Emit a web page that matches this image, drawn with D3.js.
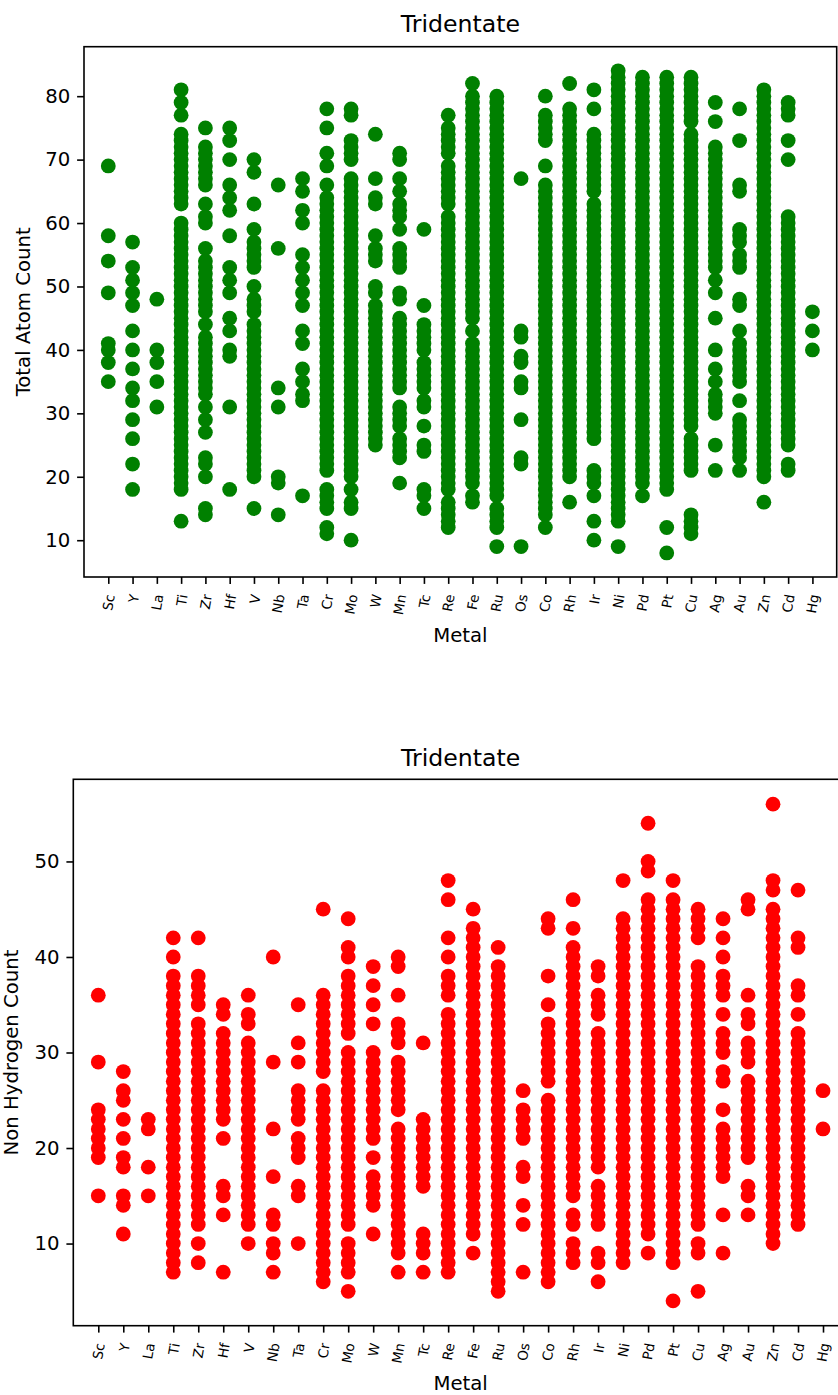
<!DOCTYPE html>
<html>
<head>
<meta charset="utf-8">
<script src="https://cdn.jsdelivr.net/npm/d3@7"></script>
<style>
  body { margin: 0; background: #ffffff; }
  svg { display: block; font-family: "DejaVu Sans", sans-serif; }
</style>
</head>
<body>
<svg id="chart" width="838" height="1395"></svg>
<script>
// metals on the x axis
const metals = ["Sc", "Y", "La", "Ti", "Zr", "Hf", "V", "Nb", "Ta", "Cr", "Mo", "W", "Mn", "Tc", "Re",
  "Fe", "Ru", "Os", "Co", "Rh", "Ir", "Ni", "Pd", "Pt", "Cu", "Ag", "Au", "Zn", "Cd", "Hg"];

// total atom count, one list per metal (same order as metals)
const totalAtomCount = [
  [69, 58, 54, 49, 41, 40, 38, 35],
  [57, 53, 51, 49, 47, 43, 40, 37, 34, 32, 29, 26, 22, 18],
  [48, 40, 38, 35, 31],
  [81, 79, 77, 74, 73, 72, 71, 70, 69, 68, 67, 66, 65, 64, 63, 60, 59, 58, 57, 56, 55, 54, 53, 52, 51, 50, 49, 48, 47, 46, 45, 44, 43, 42, 41, 40, 39, 38, 37, 36, 35, 34, 33, 32, 31, 30, 29, 28, 27, 26, 25, 24, 23, 22, 21, 20, 19, 18, 13],
  [75, 72, 71, 70, 69, 68, 67, 66, 63, 61, 60, 56, 54, 53, 52, 51, 50, 49, 48, 47, 46, 44, 42, 41, 40, 39, 38, 37, 36, 35, 34, 33, 31, 29, 27, 23, 22, 20, 15, 14],
  [75, 73, 70, 66, 64, 62, 58, 53, 51, 49, 45, 43, 40, 39, 31, 18],
  [70, 68, 63, 59, 57, 56, 55, 54, 53, 50, 48, 47, 46, 44, 43, 42, 41, 40, 39, 38, 37, 36, 35, 34, 33, 32, 31, 30, 29, 28, 27, 26, 25, 24, 23, 22, 21, 20, 15],
  [66, 56, 34, 31, 20, 19, 14],
  [67, 65, 62, 60, 55, 53, 51, 49, 47, 43, 41, 37, 35, 33, 32, 17],
  [78, 75, 71, 69, 66, 64, 63, 62, 61, 60, 59, 58, 57, 56, 55, 54, 53, 52, 51, 50, 49, 48, 47, 46, 45, 44, 43, 42, 41, 40, 39, 38, 37, 36, 35, 34, 33, 32, 31, 30, 29, 28, 27, 26, 25, 24, 23, 22, 21, 18, 17, 16, 15, 12, 11],
  [78, 77, 73, 72, 71, 70, 67, 66, 65, 64, 63, 62, 61, 60, 59, 58, 57, 56, 55, 54, 53, 52, 51, 50, 49, 48, 47, 46, 45, 44, 43, 42, 41, 40, 39, 38, 37, 36, 35, 34, 33, 32, 31, 30, 29, 28, 27, 26, 25, 24, 23, 22, 21, 20, 18, 16, 15, 10],
  [74, 67, 64, 63, 58, 56, 55, 54, 50, 49, 47, 46, 45, 44, 43, 42, 41, 40, 39, 38, 37, 36, 35, 34, 33, 32, 31, 30, 29, 28, 27, 26, 25],
  [71, 70, 67, 65, 63, 62, 61, 59, 56, 55, 54, 53, 49, 48, 45, 44, 43, 42, 41, 40, 39, 38, 37, 36, 35, 34, 31, 30, 29, 28, 26, 25, 24, 23, 19],
  [59, 47, 44, 43, 42, 41, 40, 38, 37, 36, 35, 34, 32, 31, 28, 25, 24, 18, 17, 15],
  [77, 75, 74, 73, 72, 71, 69, 68, 67, 66, 65, 64, 63, 61, 60, 59, 58, 57, 56, 55, 54, 53, 52, 51, 50, 49, 48, 47, 46, 45, 44, 43, 42, 41, 40, 39, 38, 37, 36, 35, 34, 33, 32, 31, 30, 29, 28, 27, 26, 25, 24, 23, 22, 21, 20, 19, 18, 16, 15, 14, 13, 12],
  [82, 80, 79, 78, 77, 76, 75, 74, 73, 72, 71, 70, 69, 68, 67, 66, 65, 64, 63, 62, 61, 60, 59, 58, 57, 56, 55, 54, 53, 52, 51, 50, 49, 48, 47, 46, 45, 43, 41, 40, 39, 38, 37, 36, 35, 34, 33, 32, 31, 30, 29, 28, 27, 26, 25, 24, 23, 22, 21, 20, 19, 17, 16],
  [80, 79, 78, 77, 76, 75, 74, 73, 72, 71, 70, 69, 68, 67, 66, 65, 64, 63, 62, 61, 60, 59, 58, 57, 56, 55, 54, 53, 52, 51, 50, 49, 48, 47, 46, 45, 44, 43, 42, 41, 40, 39, 38, 37, 36, 35, 34, 33, 32, 31, 30, 29, 28, 27, 26, 25, 24, 23, 22, 21, 20, 19, 18, 17, 15, 14, 13, 12, 9],
  [67, 43, 42, 39, 38, 35, 34, 29, 23, 22, 9],
  [80, 77, 76, 75, 74, 73, 69, 66, 65, 64, 63, 62, 61, 60, 59, 58, 57, 56, 55, 54, 53, 52, 51, 50, 49, 48, 47, 46, 45, 44, 43, 42, 41, 40, 39, 38, 37, 36, 35, 34, 33, 32, 31, 30, 29, 28, 27, 26, 25, 24, 23, 22, 21, 20, 19, 18, 17, 16, 15, 14, 12],
  [82, 78, 77, 76, 75, 74, 73, 72, 71, 70, 69, 68, 67, 66, 65, 64, 63, 62, 61, 60, 59, 58, 57, 56, 55, 54, 53, 52, 51, 50, 49, 48, 47, 46, 45, 44, 43, 42, 41, 40, 39, 38, 37, 36, 35, 34, 33, 32, 31, 30, 29, 28, 27, 26, 25, 24, 23, 22, 21, 20, 16],
  [81, 78, 74, 73, 72, 71, 70, 69, 68, 67, 66, 65, 63, 62, 61, 60, 59, 58, 57, 56, 55, 54, 53, 52, 51, 50, 49, 48, 47, 46, 45, 44, 43, 42, 41, 40, 39, 38, 37, 36, 35, 34, 33, 32, 31, 30, 29, 28, 27, 26, 21, 20, 19, 17, 13, 10],
  [84, 83, 82, 81, 80, 79, 78, 77, 76, 75, 74, 73, 72, 71, 70, 69, 68, 67, 66, 65, 64, 63, 62, 61, 60, 59, 58, 57, 56, 55, 54, 53, 52, 51, 50, 49, 48, 47, 46, 45, 44, 43, 42, 41, 40, 39, 38, 37, 36, 35, 34, 33, 32, 31, 30, 29, 28, 27, 26, 25, 24, 23, 22, 21, 20, 19, 18, 17, 16, 15, 14, 13, 9],
  [83, 82, 81, 80, 79, 78, 77, 76, 75, 74, 73, 72, 71, 70, 69, 68, 67, 66, 65, 64, 63, 62, 61, 60, 59, 58, 57, 56, 55, 54, 53, 52, 51, 50, 49, 48, 47, 46, 45, 44, 43, 42, 41, 40, 39, 38, 37, 36, 35, 34, 33, 32, 31, 30, 29, 28, 27, 26, 25, 24, 23, 22, 21, 20, 19, 17],
  [83, 82, 81, 80, 79, 78, 77, 76, 75, 74, 73, 72, 71, 70, 69, 68, 67, 66, 65, 64, 63, 62, 61, 60, 59, 58, 57, 56, 55, 54, 53, 52, 51, 50, 49, 48, 47, 46, 45, 44, 43, 42, 41, 40, 39, 38, 37, 36, 35, 34, 33, 32, 31, 30, 29, 28, 27, 26, 25, 24, 23, 22, 21, 20, 19, 18, 12, 8],
  [83, 82, 81, 80, 79, 78, 77, 76, 74, 73, 72, 71, 70, 69, 68, 67, 66, 65, 64, 63, 62, 61, 60, 59, 58, 57, 56, 55, 54, 53, 52, 51, 50, 49, 48, 47, 46, 45, 44, 43, 42, 41, 40, 39, 38, 37, 36, 35, 34, 33, 32, 31, 30, 29, 28, 26, 25, 24, 23, 22, 21, 14, 13, 12, 11],
  [79, 76, 72, 71, 70, 69, 68, 67, 66, 65, 64, 63, 62, 61, 60, 59, 58, 57, 56, 55, 54, 53, 51, 49, 45, 40, 37, 35, 33, 32, 31, 30, 25, 21],
  [78, 73, 66, 65, 59, 58, 57, 55, 54, 53, 48, 47, 43, 41, 40, 39, 38, 37, 36, 35, 32, 29, 28, 27, 26, 25, 24, 23, 21],
  [81, 80, 79, 78, 77, 76, 75, 74, 73, 72, 71, 70, 69, 68, 67, 66, 65, 64, 63, 62, 61, 60, 59, 58, 57, 56, 55, 54, 53, 52, 51, 50, 49, 48, 47, 46, 45, 44, 43, 42, 41, 40, 39, 38, 37, 36, 35, 34, 33, 32, 31, 30, 29, 28, 27, 26, 25, 24, 23, 22, 21, 20, 16],
  [79, 78, 77, 73, 70, 61, 60, 59, 58, 57, 56, 55, 54, 53, 52, 51, 50, 49, 48, 47, 46, 45, 44, 43, 42, 41, 40, 39, 38, 37, 36, 35, 34, 33, 32, 31, 30, 29, 28, 27, 26, 25, 22, 21],
  [46, 43, 40]
];

// non hydrogen count, one list per metal
const nonHydrogenCount = [
  [36, 29, 24, 23, 22, 21, 20, 19, 15],
  [28, 26, 25, 23, 21, 19, 18, 15, 14, 11],
  [23, 22, 18, 15],
  [42, 40, 38, 37, 36, 35, 34, 33, 32, 31, 30, 29, 28, 27, 26, 25, 24, 23, 22, 21, 20, 19, 18, 17, 16, 15, 14, 13, 12, 11, 10, 9, 8, 7],
  [42, 38, 37, 36, 35, 33, 32, 31, 30, 29, 28, 27, 26, 25, 24, 23, 22, 21, 20, 19, 18, 17, 16, 15, 14, 13, 12, 10, 8],
  [35, 34, 32, 31, 30, 29, 28, 27, 26, 25, 24, 23, 21, 16, 15, 13, 7],
  [36, 34, 33, 31, 30, 29, 28, 27, 26, 25, 24, 23, 22, 21, 20, 19, 18, 17, 16, 15, 14, 13, 12, 10],
  [40, 29, 22, 17, 13, 12, 10, 9, 7],
  [35, 31, 29, 26, 25, 24, 23, 21, 20, 19, 16, 15, 10],
  [45, 36, 35, 34, 33, 32, 31, 30, 29, 28, 26, 25, 24, 23, 22, 21, 20, 19, 18, 17, 16, 15, 14, 13, 12, 11, 10, 9, 8, 7, 6],
  [44, 41, 40, 38, 37, 36, 35, 34, 33, 32, 30, 29, 28, 27, 26, 25, 24, 23, 22, 21, 20, 19, 18, 17, 16, 15, 14, 13, 12, 10, 9, 8, 7, 5],
  [39, 37, 35, 33, 30, 29, 28, 27, 26, 25, 24, 23, 22, 21, 19, 17, 16, 15, 14, 11],
  [40, 39, 36, 33, 32, 31, 29, 28, 27, 26, 25, 24, 22, 21, 20, 19, 18, 17, 16, 15, 14, 13, 12, 11, 10, 9, 7],
  [31, 23, 22, 21, 20, 19, 18, 17, 16, 11, 10, 9, 7],
  [48, 46, 42, 40, 38, 37, 36, 34, 33, 32, 31, 30, 29, 28, 27, 26, 25, 24, 23, 22, 21, 20, 19, 18, 17, 16, 15, 14, 13, 12, 11, 10, 9, 8, 7],
  [45, 43, 42, 41, 40, 39, 38, 37, 36, 35, 34, 33, 32, 31, 30, 29, 28, 27, 26, 25, 24, 23, 22, 21, 20, 19, 18, 17, 16, 15, 14, 13, 12, 11, 9],
  [41, 39, 38, 37, 36, 35, 34, 33, 32, 31, 30, 29, 28, 27, 26, 25, 24, 23, 22, 21, 20, 19, 18, 17, 16, 15, 14, 13, 12, 11, 10, 9, 8, 7, 6, 5],
  [26, 24, 23, 22, 21, 18, 17, 14, 12, 7],
  [44, 43, 38, 35, 33, 32, 31, 30, 29, 28, 27, 25, 24, 23, 22, 21, 20, 19, 18, 17, 16, 15, 14, 13, 12, 11, 10, 9, 8, 7, 6],
  [46, 43, 41, 40, 39, 38, 37, 36, 35, 34, 33, 32, 31, 30, 29, 28, 27, 26, 25, 24, 23, 22, 21, 20, 19, 18, 17, 16, 15, 13, 12, 10, 9, 8],
  [39, 38, 36, 35, 34, 32, 31, 30, 29, 28, 27, 26, 25, 24, 23, 22, 21, 20, 19, 18, 16, 15, 14, 13, 12, 9, 8, 6],
  [48, 44, 43, 42, 41, 40, 39, 38, 37, 36, 35, 34, 33, 32, 31, 30, 29, 28, 27, 26, 25, 24, 23, 22, 21, 20, 19, 18, 17, 16, 15, 14, 13, 12, 11, 10, 9, 8],
  [54, 50, 49, 46, 45, 44, 43, 42, 41, 40, 39, 38, 37, 36, 35, 34, 33, 32, 31, 30, 29, 28, 27, 26, 25, 24, 23, 22, 21, 20, 19, 18, 17, 16, 15, 14, 13, 12, 11, 9],
  [48, 46, 45, 44, 43, 42, 41, 40, 39, 38, 37, 36, 35, 34, 33, 32, 31, 30, 29, 28, 27, 26, 25, 24, 23, 22, 21, 20, 19, 18, 17, 16, 15, 14, 13, 12, 11, 10, 9, 8, 4],
  [45, 44, 43, 42, 39, 38, 37, 36, 35, 34, 33, 32, 31, 30, 29, 28, 27, 26, 25, 24, 23, 22, 21, 20, 19, 18, 17, 16, 15, 14, 13, 12, 10, 9, 5],
  [44, 42, 40, 38, 37, 36, 34, 32, 31, 30, 28, 27, 24, 22, 21, 20, 19, 18, 17, 13, 9],
  [46, 45, 36, 34, 33, 31, 30, 29, 27, 26, 25, 24, 23, 22, 21, 20, 19, 16, 15, 13],
  [56, 48, 47, 45, 44, 43, 42, 41, 40, 39, 38, 37, 36, 35, 34, 33, 32, 31, 30, 29, 28, 27, 26, 25, 24, 23, 22, 21, 20, 19, 18, 17, 16, 15, 14, 13, 12, 11, 10],
  [47, 42, 41, 37, 36, 34, 32, 31, 30, 29, 28, 27, 26, 25, 24, 23, 22, 21, 20, 19, 18, 17, 16, 15, 14, 13, 12],
  [26, 22]
];

// tick labels of the y axes
const totalTicks = [10, 20, 30, 40, 50, 60, 70, 80];
const nonHydrogenTicks = [10, 20, 30, 40, 50];

const svg = d3.select("#chart");

const tickLen = 6.9;
const tickPad = 6.9;
const dotR = 7.4;

function drawPanel(p) {
  const x = d3.scalePoint()
    .domain(metals)
    .range([p.left, p.right])
    .padding(1);

  const y = d3.scaleLinear()
    .domain(p.yDomain)
    .range([p.bottom, p.top]);

  // flatten the per-metal lists into points
  const points = [];
  p.values.forEach((list, i) => {
    list.forEach(v => points.push({ metal: metals[i], value: v }));
  });

  svg.append("g")
    .selectAll("circle")
    .data(points)
    .join("circle")
    .attr("cx", d => x(d.metal))
    .attr("cy", d => y(d.value))
    .attr("r", dotR)
    .attr("fill", p.color);

  // y axis
  const yAxis = svg.append("g")
    .attr("transform", `translate(${p.left},0)`)
    .call(d3.axisLeft(y).tickValues(p.ticks).tickSize(tickLen).tickPadding(tickPad));
  yAxis.select(".domain").remove();
  yAxis.selectAll("line").attr("stroke", "#000").attr("stroke-width", 1.6);
  yAxis.selectAll("text")
    .attr("font-family", "DejaVu Sans")
    .attr("font-size", "19.7px")
    .attr("fill", "#000");

  // x axis with slanted metal names
  const xAxis = svg.append("g")
    .attr("transform", `translate(0,${p.bottom})`)
    .call(d3.axisBottom(x).tickSize(tickLen));
  xAxis.select(".domain").remove();
  xAxis.selectAll("line").attr("stroke", "#000").attr("stroke-width", 1.6);
  xAxis.selectAll("text")
    .attr("font-family", "DejaVu Sans")
    .attr("font-size", "13.6px")
    .attr("fill", "#000")
    .attr("x", 0)
    .attr("y", 0)
    .attr("dy", "0.35em")
    .attr("text-anchor", "end")
    .attr("transform", "translate(1.4,17.5) rotate(-80)");

  // frame
  svg.append("rect")
    .attr("x", p.left)
    .attr("y", p.top)
    .attr("width", p.right - p.left)
    .attr("height", p.bottom - p.top)
    .attr("fill", "none")
    .attr("stroke", "#000")
    .attr("stroke-width", 1.6);

  const cx = (p.left + p.right) / 2;

  svg.append("text")
    .text("Tridentate")
    .attr("x", cx)
    .attr("y", p.titleY)
    .attr("text-anchor", "middle")
    .attr("font-size", "23.6px")
    .attr("fill", "#000");

  svg.append("text")
    .text("Metal")
    .attr("x", cx)
    .attr("y", p.xLabelY)
    .attr("text-anchor", "middle")
    .attr("font-size", "19.7px")
    .attr("fill", "#000");

  svg.append("text")
    .text(p.yLabel)
    .attr("transform", `translate(${p.yLabelX},${(p.top + p.bottom) / 2}) rotate(-90)`)
    .attr("text-anchor", "middle")
    .attr("font-size", "19.7px")
    .attr("fill", "#000");
}

drawPanel({
  left: 84, right: 836.7, top: 46.7, bottom: 577,
  yDomain: [4.2, 87.8],
  ticks: totalTicks,
  values: totalAtomCount,
  color: "#008000",
  yLabel: "Total Atom Count",
  yLabelX: 30,
  titleY: 32,
  xLabelY: 642
});

drawPanel({
  left: 73.3, right: 848, top: 779.3, bottom: 1325.7,
  yDomain: [1.4, 58.6],
  ticks: nonHydrogenTicks,
  values: nonHydrogenCount,
  color: "#ff0000",
  yLabel: "Non Hydrogen Count",
  yLabelX: 17.5,
  titleY: 766,
  xLabelY: 1390
});
</script>
</body>
</html>
